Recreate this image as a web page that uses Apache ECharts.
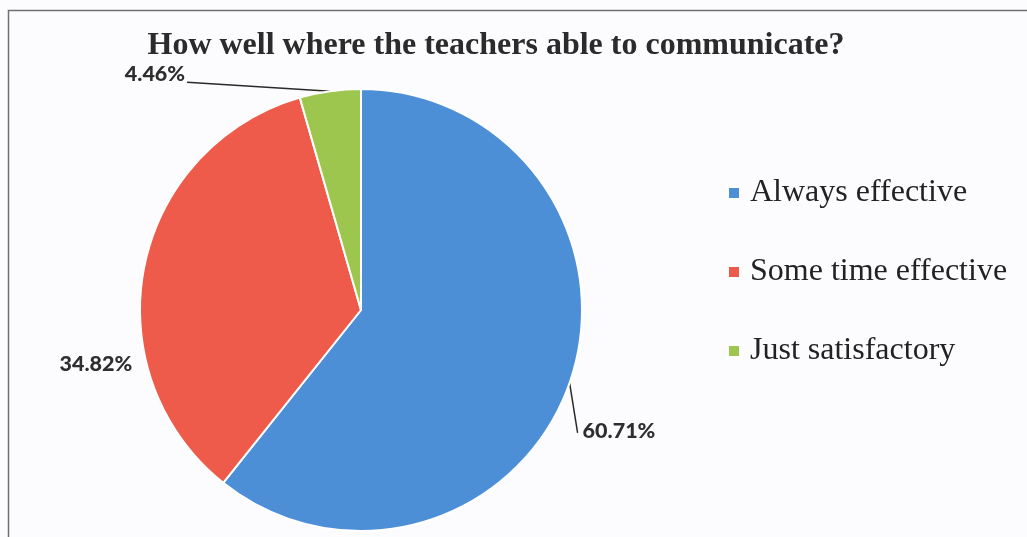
<!DOCTYPE html>
<html>
<head>
<meta charset="utf-8">
<script src="https://cdn.jsdelivr.net/npm/echarts@6/dist/echarts.min.js"></script>
<style>
  html, body { margin: 0; padding: 0; background: #fcfbfd; }
  #chart { width: 1027px; height: 537px; }
</style>
</head>
<body>
<div id="chart"></div>
<script>
const categories = ["Always effective", "Some time effective", "Just satisfactory"];
const counts = [68, 39, 5];
const percentLabels = ["60.71%", "34.82%", "4.46%"];
const sliceColors = ["#4d8fd7", "#ef5b4a", "#9cc64d"];

// label placement relative to the slice edge point (Excel-like manual positions)
const labelMoves = [
    {line: [8, 50], dx: 13, dy: 48, align: "left"},
    {line: null, dx: -12, dy: 97, align: "right"},
    {line: [-143, -9], dx: -145, dy: -17, align: "right"}
];

const chart = echarts.init(document.getElementById("chart"));

const option = {
    backgroundColor: "#fcfbfd",
    title: {
        text: "How well where the teachers able to communicate?",
        left: 491,
        top: 25,
        textAlign: "center",
        textStyle: {
            fontFamily: "Liberation Serif",
            fontWeight: "bold",
            fontSize: 32,
            color: "#2b2b2b"
        }
    },
    legend: {
        orient: "vertical",
        left: 722,
        top: 172,
        itemWidth: 12,
        itemHeight: 12,
        itemGap: 47,
        icon: "rect",
        data: categories,
        textStyle: {
            fontFamily: "Liberation Serif",
            fontSize: 32,
            lineHeight: 32,
            color: "#222",
            padding: [0, 0, 0, 5]
        }
    },
    graphic: [{
        type: "rect",
        shape: {x: 8.5, y: 10.5, width: 1030, height: 540},
        style: {fill: null, stroke: "#6f6f73", lineWidth: 1.5},
        silent: true
    }],
    series: [{
        type: "pie",
        center: [361, 310],
        radius: 221,
        startAngle: 90,
        clockwise: true,
        animation: false,
        itemStyle: {borderColor: "#ffffff", borderWidth: 2},
        label: {
            show: true,
            position: "outside",
            formatter: (p) => percentLabels[p.dataIndex],
            fontFamily: "Lato",
            fontWeight: 900,
            fontSize: 21.5,
            color: "#2e2e2e"
        },
        labelLine: {
            show: true,
            length: 10,
            length2: 0,
            lineStyle: {color: "#2a2a2a", width: 1.5}
        },
        labelLayout: (params) => {
            const m = labelMoves[params.dataIndex];
            const p0 = params.labelLinePoints ? params.labelLinePoints[0] : [params.rect.x, params.rect.y];
            const res = {
                x: p0[0] + m.dx,
                y: p0[1] + m.dy,
                align: m.align,
                verticalAlign: "middle"
            };
            if (m.line) {
                res.labelLinePoints = [p0, [p0[0] + m.line[0], p0[1] + m.line[1]]];
            }
            return res;
        },
        data: categories.map((name, i) => ({
            name: name,
            value: counts[i],
            itemStyle: {color: sliceColors[i]},
            labelLine: {show: labelMoves[i].line !== null}
        }))
    }]
};

chart.setOption(option);
</script>
</body>
</html>
